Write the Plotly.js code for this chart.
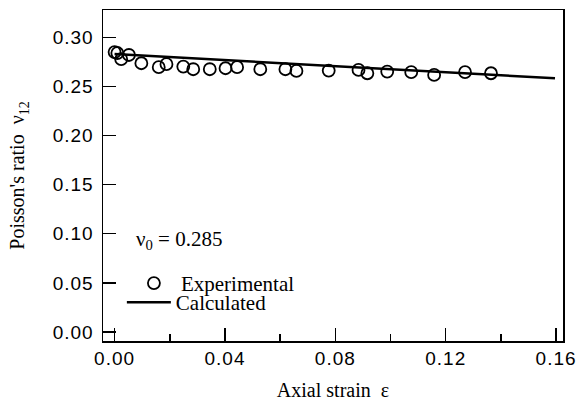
<!DOCTYPE html>
<html>
<head>
<meta charset="utf-8">
<script src="https://cdn.plot.ly/plotly-3.0.1.min.js"></script>
<style>
html,body{margin:0;padding:0;background:#fff;}
#chart{width:578px;height:404px;}
.xtick text,.ytick text{letter-spacing:1px;}
</style>
</head>
<body>
<div id="chart"></div>
<script>
// Experimental points (axial strain, Poisson's ratio)
const expStrain = [0.000, 0.001, 0.0024, 0.0052, 0.0097, 0.016, 0.0188, 0.0249, 0.0285, 0.0345, 0.0402, 0.0444, 0.0528, 0.0619, 0.0659, 0.0776, 0.0884, 0.0916, 0.0988, 0.1075, 0.1158, 0.127, 0.1364];
const expNu     = [0.285, 0.284, 0.2777, 0.282, 0.2736, 0.2696, 0.2726, 0.2702, 0.2675, 0.2675, 0.2685, 0.2696, 0.2675, 0.2675, 0.2658, 0.2661, 0.2668, 0.2634, 0.2651, 0.2645, 0.2617, 0.2645, 0.2634];
// Calculated curve
const calcStrain = [0.000, 0.04, 0.08, 0.12, 0.1596];
const calcNu     = [0.283, 0.277, 0.2705, 0.2645, 0.2583];
// Tick labels
const xTicks = [0.00, 0.04, 0.08, 0.12, 0.16];
const yTicks = [0.00, 0.05, 0.10, 0.15, 0.20, 0.25, 0.30];

const serif = "'Liberation Serif', 'Times New Roman', serif";
const sans = "'Liberation Sans', Arial, sans-serif";

const data = [
  {
    x: expStrain, y: expNu, type: 'scatter', mode: 'markers', name: 'Experimental',
    legend: 'legend',
    marker: {symbol: 'circle-open', size: 12, color: '#000', line: {width: 1.8, color: '#000'}}
  },
  {
    x: calcStrain, y: calcNu, type: 'scatter', mode: 'lines', name: 'Calculated',
    legend: 'legend2',
    line: {color: '#000', width: 2.5}
  }
];

const legendCommon = {
  xanchor: 'left', yanchor: 'top',
  bgcolor: 'rgba(0,0,0,0)', borderwidth: 0,
  font: {family: serif, size: 21, color: '#000'},
  itemwidth: 44
};

const layout = {
  width: 578, height: 404,
  margin: {l: 103, r: 15, t: 10, b: 63},
  paper_bgcolor: '#fff', plot_bgcolor: '#fff',
  showlegend: true,
  legend: Object.assign({x: 0.052, y: 0.236}, legendCommon),
  legend2: Object.assign({x: 0.041, y: 0.178}, legendCommon),
  xaxis: {
    range: [-0.0042, 0.1625],
    tickvals: xTicks, tickformat: '.2f',
    ticks: 'inside', ticklen: 13, tickwidth: 1.5, tickcolor: '#000',
    minor: {tickvals: [0.02, 0.06, 0.10, 0.14], ticks: 'inside', ticklen: 7, tickwidth: 1.5, tickcolor: '#000'},
    showline: true, linewidth: 1.5, linecolor: '#000', mirror: true,
    showgrid: false, zeroline: false,
    tickfont: {family: sans, size: 19, color: '#000'},
    title: {text: 'Axial strain  ε', font: {family: serif, size: 20, color: '#000'}, standoff: 14}
  },
  yaxis: {
    range: [-0.0092, 0.3278],
    tickvals: yTicks, tickformat: '.2f',
    ticks: 'inside', ticklen: 13, tickwidth: 1.5, tickcolor: '#000',
    ticklabelstandoff: 4,
    showline: true, linewidth: 1.5, linecolor: '#000', mirror: true,
    showgrid: false, zeroline: false,
    tickfont: {family: sans, size: 19, color: '#000'},
    title: {text: "Poisson's ratio  ν<sub>12</sub>", font: {family: serif, size: 20, color: '#000'}, standoff: 22}
  },
  annotations: [
    {
      xref: 'paper', yref: 'paper', x: 0.068, y: 0.305, xanchor: 'left', yanchor: 'middle',
      text: 'ν<sub>0</sub> = 0.285', showarrow: false,
      font: {family: serif, size: 21, color: '#000'}
    }
  ]
};

Plotly.newPlot('chart', data, layout, {displayModeBar: false, staticPlot: true});
</script>
</body>
</html>
